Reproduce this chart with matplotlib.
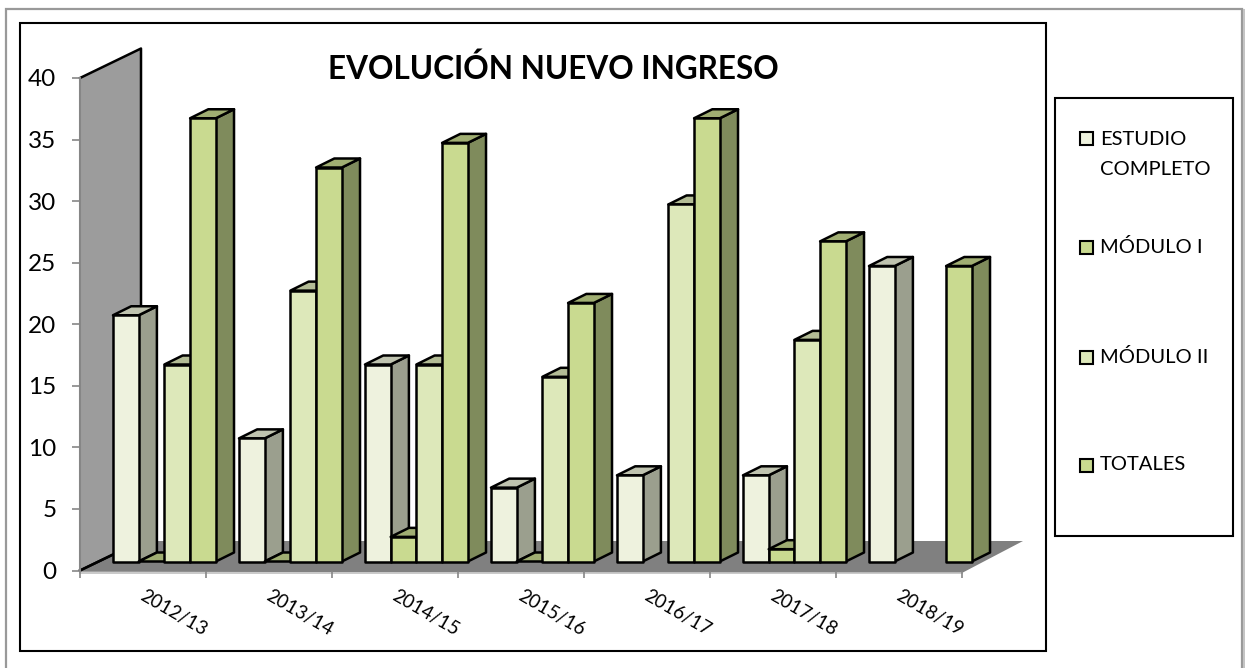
import numpy as np
import matplotlib
matplotlib.use('Agg')
from matplotlib import pyplot as plt
from matplotlib.patches import Polygon, Rectangle

cursos = ['2012/13', '2013/14', '2014/15', '2015/16', '2016/17', '2017/18', '2018/19']
series_names = ['ESTUDIO\nCOMPLETO', 'MÓDULO I', 'MÓDULO II', 'TOTALES']
estudio_completo = [20, 10, 16, 6, 7, 7, 24]
modulo_1 = [0, 0, 2, 0, np.nan, 1, np.nan]
modulo_2 = [16, 22, 16, 15, 29, 18, np.nan]
totales = [36, 32, 34, 21, 36, 26, 24]
y_ticks = [0, 5, 10, 15, 20, 25, 30, 35, 40]

# front, side, top
colores = [('#EEF2DE', '#9B9F8E', '#BFC3AF'),
           ('#C9DA90', '#7F8B5C', '#A0AE72'),
           ('#DDE8BA', '#8D9477', '#B3BC95'),
           ('#C9DA90', '#7F8B5C', '#A0AE72')]

W, H = 1245, 668
X0, X1 = 80.0, 962.0
Y0, Y40 = 570.5, 78.0
UX = (X1 - X0) / 7
UY = (Y0 - Y40) / 40

plt.rcParams['font.family'] = ['Lato', 'DejaVu Sans']
fig = plt.figure(figsize=(W / 100, H / 100), dpi=100)

# frames, in pixels
bg = fig.add_axes([0, 0, 1, 1])
bg.set_xlim(0, W)
bg.set_ylim(H, 0)
bg.axis('off')
bg.plot([1243.5, 1243.5], [10, H], color='#c4c4c4', lw=1.5)
bg.add_patch(Rectangle((6, 9), 1236, 700, fc='white', ec='#999999', lw=1.6))
bg.add_patch(Rectangle((20, 23), 1026, 628, fc='white', ec='black', lw=1.5))
bg.add_patch(Rectangle((1055, 98), 178, 437.5, fc='white', ec='black', lw=1.5))

ax = fig.add_axes([X0 / W, 1 - Y0 / H, (X1 - X0) / W, (Y0 - Y40) / H])
ax.set_xlim(0, 7)
ax.set_ylim(0, 40)
ax.patch.set_visible(False)
for s in ax.spines.values():
    s.set_visible(False)

wall_dx = 61 / UX
wall_dy = 29.5 / UY
bar_dx = 18.2 / UX
bar_dy = 9.0 / UY
base_x = 33 / UX
base_y = bar_dy
bar_w = 0.204


def poly(points, fc, ec='black', lw=1.8, z=2):
    ax.add_patch(Polygon(points, closed=True, fc=fc, ec=ec, lw=lw, joinstyle='round',
                         clip_on=False, zorder=z))


# wall
poly([(0, 0), (0, 40), (wall_dx, 40 + wall_dy), (wall_dx, wall_dy)], '#9C9C9C', ec='none', z=1)
ax.plot([0, wall_dx, wall_dx, 0], [40, 40 + wall_dy, wall_dy, 0], color='black', lw=1.8,
        clip_on=False, zorder=1.2)
# floor
poly([(0, -0.1), (7, -0.2), (7 + wall_dx, wall_dy), (wall_dx, wall_dy)], '#808080', ec='none', z=1.1)
ax.plot([0, 7], [-0.2, -0.2], color='#c0c0c0', lw=1.2, clip_on=False, zorder=1.15)
ax.plot([wall_dx, 0], [wall_dy, 0], color='black', lw=1.8, clip_on=False, zorder=1.2)

# bars
todas = [estudio_completo, modulo_1, modulo_2, totales]
for i in range(len(cursos)):
    for j, valores in enumerate(todas):
        v = valores[i]
        if np.isnan(v):
            continue
        x = i + base_x + j * bar_w
        front, side, top = colores[j]
        poly([(x + bar_w, base_y), (x + bar_w + bar_dx, base_y + bar_dy),
              (x + bar_w + bar_dx, base_y + bar_dy + v), (x + bar_w, base_y + v)], side)
        poly([(x, base_y + v), (x + bar_dx, base_y + bar_dy + v),
              (x + bar_w + bar_dx, base_y + bar_dy + v), (x + bar_w, base_y + v)], top)
        if v > 0:
            poly([(x, base_y), (x + bar_w, base_y), (x + bar_w, base_y + v), (x, base_y + v)], front)

# axes and labels
ax.plot([0, 0], [0, 40], color='#868686', lw=1.5, clip_on=False, zorder=1.3)
ax.set_yticks(y_ticks)
ax.set_yticklabels([str(t) for t in y_ticks], fontsize=17.5)
ax.set_xticks(range(8))
ax.set_xticklabels([])
ax.tick_params(axis='x', color='#868686', width=1.2, length=5)
ax.tick_params(axis='y', color='#868686', width=1.2, length=6, pad=11)
for i, curso in enumerate(cursos):
    ax.annotate(curso, (i + 0.5, 0), xytext=(30, -42), textcoords='offset pixels', ha='center',
                va='center', rotation=-30, rotation_mode='anchor', fontsize=13.5, annotation_clip=False)

bg.text(553, 69, 'EVOLUCIÓN NUEVO INGRESO', ha='center', va='center', fontsize=22.7, fontweight='bold')

# legend
ley_y = [138, 247, 357, 465]
for name, y, c in zip(series_names, ley_y, colores):
    bg.add_patch(Rectangle((1080, y - 6.5), 13, 13, fc=c[0], ec='black', lw=1.5))
    bg.text(1100, y - 7 if '\n' in name else y, name, ha='left', va='top' if '\n' in name else 'center',
            fontsize=14.5, linespacing=1.95)

fig.savefig('out.png', dpi=100)
